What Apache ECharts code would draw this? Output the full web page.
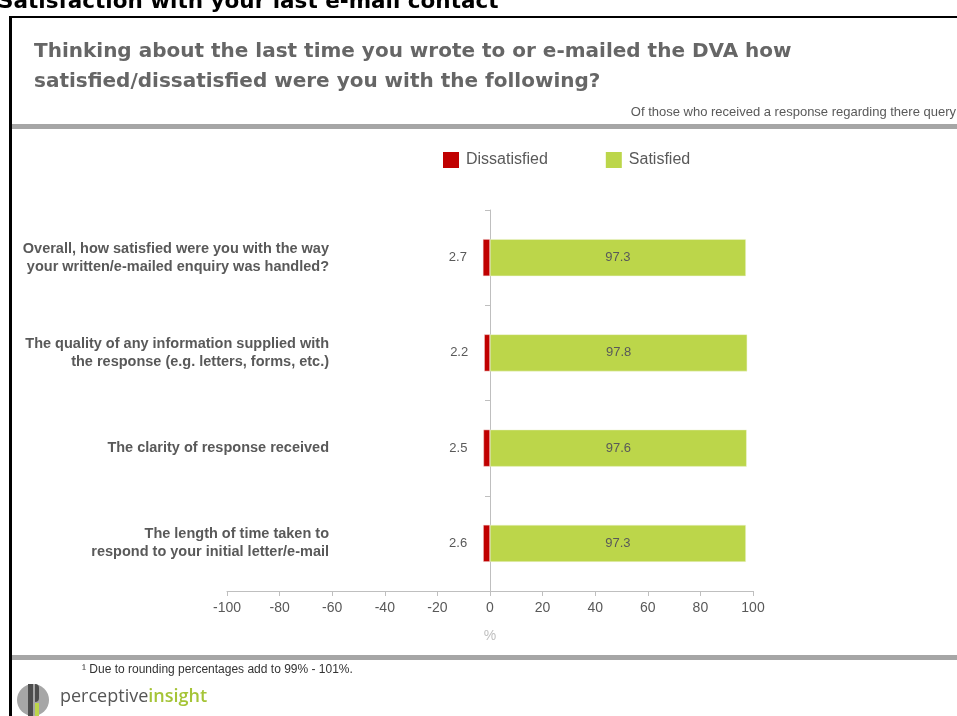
<!DOCTYPE html>
<html>
<head>
<meta charset="utf-8">
<script src="https://cdn.jsdelivr.net/npm/echarts@6/dist/echarts.min.js"></script>
<style>
  html, body { margin: 0; padding: 0; background: #fff; }
  #chart { width: 957px; height: 716px; }
</style>
</head>
<body>
<div id="chart"></div>
<script>
// Survey items (top to bottom)
const categories = [
  'Overall, how satisfied were you with the way\nyour written/e-mailed enquiry was handled?',
  'The quality of any information supplied with\nthe response (e.g. letters, forms, etc.)',
  'The clarity of response received',
  'The length of time taken to\nrespond to your initial letter/e-mail'
];
// Percentages per item
const dissatisfied = [2.7, 2.2, 2.5, 2.6];
const satisfied = [97.3, 97.8, 97.6, 97.3];
// Value axis ticks
const axisMin = -100;
const axisMax = 100;
const axisStep = 20;

const chart = echarts.init(document.getElementById('chart'));

const grey = '#595959';
const axisGrey = '#BFBFBF';

chart.setOption({
  animation: false,
  textStyle: { fontFamily: 'Liberation Sans, Arial, sans-serif' },
  grid: { left: 227, right: 204, top: 210, bottom: 125, containLabel: false, outerBoundsMode: 'none' },
  legend: {
    left: 443,
    top: 152,
    padding: 0,
    itemWidth: 16,
    itemHeight: 16,
    itemGap: 58,
    icon: 'rect',
    itemStyle: { borderWidth: 0 },
    textStyle: { color: grey, fontSize: 16, fontFamily: 'Liberation Sans, Arial, sans-serif', padding: [0, 0, 0, 2] },
    data: ['Dissatisfied', 'Satisfied']
  },
  xAxis: {
    type: 'value',
    min: axisMin,
    max: axisMax,
    interval: axisStep,
    splitLine: { show: false },
    axisLine: { show: true, lineStyle: { color: axisGrey } },
    axisTick: { show: true, length: 5, lineStyle: { color: axisGrey } },
    axisLabel: { color: grey, fontSize: 14, margin: 10 },
    name: '%',
    nameLocation: 'middle',
    nameGap: 38,
    nameTextStyle: { color: axisGrey, fontSize: 14 }
  },
  yAxis: {
    type: 'category',
    inverse: true,
    data: categories,
    axisLine: { show: true, onZero: true, lineStyle: { color: axisGrey } },
    axisTick: { show: true, length: 5, lineStyle: { color: axisGrey } },
    axisLabel: {
      color: grey,
      fontSize: 14.5,
      fontWeight: 'bold',
      lineHeight: 18,
      margin: -102,
      align: 'right'
    }
  },
  series: [
    {
      name: 'Dissatisfied',
      type: 'bar',
      stack: 'total',
      barWidth: 37,
      itemStyle: { color: '#C00000', borderColor: '#F2DCDB', borderWidth: 0.5 },
      label: {
        show: true,
        position: 'left',
        distance: 16,
        color: grey,
        fontSize: 13,
        formatter: p => Math.abs(p.value).toFixed(1)
      },
      data: dissatisfied.map(v => -v)
    },
    {
      name: 'Satisfied',
      type: 'bar',
      stack: 'total',
      barWidth: 37,
      itemStyle: { color: '#BCD64A', borderColor: '#EEF4D6', borderWidth: 0.5 },
      label: {
        show: true,
        position: 'inside',
        color: grey,
        fontSize: 13,
        formatter: p => p.value.toFixed(1)
      },
      data: satisfied
    }
  ],
  graphic: [
    // page heading, cropped by the top edge
    {
      type: 'text', left: -2, top: -9,
      style: {
        text: 'Satisfaction with your last e-mail contact',
        fill: '#000', font: 'bold 21.5px "DejaVu Sans", sans-serif'
      }
    },
    // frame
    { type: 'rect', shape: { x: 10, y: 16, width: 960, height: 2 }, style: { fill: '#000' } },
    { type: 'rect', shape: { x: 9, y: 16, width: 3, height: 710 }, style: { fill: '#000' } },
    // grey separators
    { type: 'rect', shape: { x: 12, y: 124, width: 960, height: 5 }, style: { fill: '#A6A6A6' } },
    { type: 'rect', shape: { x: 12, y: 655, width: 960, height: 5 }, style: { fill: '#A6A6A6' } },
    // question text
    {
      type: 'text', left: 34, top: 37,
      style: {
        text: 'Thinking about the last time you wrote to or e-mailed the DVA how\nsatisfied/dissatisfied were you with the following?',
        fill: '#666666', lineHeight: 30,
        font: 'bold 20px "DejaVu Sans", sans-serif'
      }
    },
    {
      type: 'text', right: 1, top: 106,
      style: {
        text: 'Of those who received a response regarding there query',
        fill: grey, font: '13px "Liberation Sans", Arial, sans-serif'
      }
    },
    // footnote
    {
      type: 'text', left: 82, top: 664,
      style: {
        text: '\u00B9 Due to rounding percentages add to 99% - 101%.',
        fill: '#333', font: '12px "Liberation Sans", Arial, sans-serif'
      }
    },
    // logo mark
    { type: 'circle', shape: { cx: 33, cy: 700, r: 16 }, style: { fill: '#A6A6A6' } },
    { type: 'rect', shape: { x: 28, y: 684, width: 5, height: 32 }, style: { fill: '#4D4D4D' } },
    { type: 'rect', shape: { x: 35, y: 684, width: 4, height: 18, r: [0, 4, 4, 0] }, style: { fill: '#4D4D4D' } },
    { type: 'rect', shape: { x: 35, y: 703, width: 4, height: 13 }, style: { fill: '#BCD64A' } },
    {
      type: 'text', left: 60, top: 688,
      style: {
        rich: {
          a: { fill: '#555', font: '18px "Open Sans", sans-serif' },
          b: { fill: '#A5C437', font: '600 18px "Open Sans", sans-serif' }
        },
        text: '{a|perceptive}{b|insight}'
      }
    }
  ]
});
</script>
</body>
</html>
